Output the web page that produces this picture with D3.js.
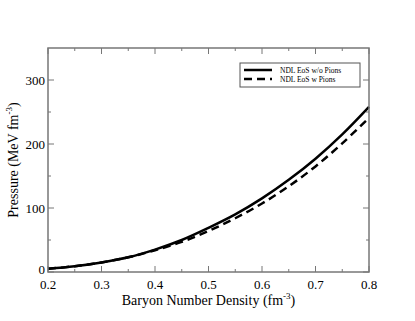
<!DOCTYPE html>
<html lang="en">
<head>
<meta charset="UTF-8">
<title>Pressure vs density</title>
<script src="https://d3js.org/d3.v7.min.js"></script>
<style>
  body { margin: 0; background: #fff; }
  text { font-family: "Liberation Serif", "Times New Roman", serif; fill: #000; }
</style>
</head>
<body>
<script>
    // data
    var density = [0.2, 0.25, 0.3, 0.35, 0.4, 0.45, 0.5, 0.55, 0.6, 0.65, 0.7, 0.75, 0.8];
    var noPions = [5, 9, 15, 23, 35, 50, 69, 90, 115, 144, 177, 215, 258];
    var withPions = [5, 9, 15, 23, 34, 47, 64, 84, 107, 134, 165, 201, 241];
    var xTicks = [0.2, 0.3, 0.4, 0.5, 0.6, 0.7, 0.8];
    var yTicks = [0, 100, 200, 300];
    var seriesNames = ['NDL EoS w/o Pions', 'NDL EoS w Pions'];

    var width = 415, height = 321;
    var margin = {top: 48, right: 46, bottom: 49, left: 48};
    var svg = d3.select('body').append('svg').attr('width', width).attr('height', height);

    var x = d3.scaleLinear().domain([0.2, 0.8]).range([margin.left, width - margin.right]);
    var y = d3.scaleLinear().domain([0, 350]).range([height - margin.bottom, margin.top]);

    var frame = '#777';
    var minorX = d3.range(0.25, 0.8, 0.1);
    var minorY = d3.range(50, 350, 100);

    // tick marks (inside) on all four sides
    var g = svg.append('g').attr('stroke', frame).attr('stroke-width', 1);
    xTicks.concat(minorX).forEach(function (t, i) {
        var len = i < xTicks.length ? 6 : 3;
        g.append('line').attr('x1', x(t)).attr('x2', x(t)).attr('y1', y(0)).attr('y2', y(0) - len);
        g.append('line').attr('x1', x(t)).attr('x2', x(t)).attr('y1', y(350)).attr('y2', y(350) + len);
    });
    yTicks.concat(minorY).forEach(function (t, i) {
        var len = i < yTicks.length ? 6 : 3;
        g.append('line').attr('y1', y(t)).attr('y2', y(t)).attr('x1', x(0.2)).attr('x2', x(0.2) + len);
        g.append('line').attr('y1', y(t)).attr('y2', y(t)).attr('x1', x(0.8)).attr('x2', x(0.8) - len);
    });

    // curves
    var line = d3.line().x(function (d) { return x(d[0]); }).y(function (d) { return y(d[1]); })
        .curve(d3.curveCatmullRom);
    svg.append('path').datum(d3.zip(density, noPions)).attr('d', line)
        .attr('fill', 'none').attr('stroke', '#000').attr('stroke-width', 2.5);
    svg.append('path').datum(d3.zip(density, withPions)).attr('d', line)
        .attr('fill', 'none').attr('stroke', '#000').attr('stroke-width', 2.5)
        .attr('stroke-dasharray', '8,5');

    // frame
    svg.append('rect').attr('x', x(0.2)).attr('y', y(350))
        .attr('width', x(0.8) - x(0.2)).attr('height', y(0) - y(350))
        .attr('fill', 'none').attr('stroke', frame).attr('stroke-width', 1.5);

    // tick labels
    svg.selectAll('.xl').data(xTicks).enter().append('text')
        .attr('x', function (d) { return x(d); }).attr('y', y(0) + 17)
        .attr('text-anchor', 'middle').attr('font-size', 13)
        .text(function (d) { return d.toFixed(1); });
    svg.selectAll('.yl').data(yTicks).enter().append('text')
        .attr('x', x(0.2) - 3).attr('y', function (d) { return y(d) + (d === 0 ? 2 : 4.5); })
        .attr('text-anchor', 'end').attr('font-size', 13)
        .text(function (d) { return d; });

    // axis titles
    var xt = svg.append('text').attr('x', (x(0.2) + x(0.8)) / 2).attr('y', 305)
        .attr('text-anchor', 'middle').attr('font-size', 14);
    xt.append('tspan').text('Baryon Number Density (fm');
    xt.append('tspan').attr('font-size', 9).attr('dy', -6).text('-3');
    xt.append('tspan').attr('dy', 6).text(')');

    var yt = svg.append('text').attr('transform', 'translate(18,' + ((y(0) + y(350)) / 2) + ') rotate(-90)')
        .attr('text-anchor', 'middle').attr('font-size', 14);
    yt.append('tspan').text('Pressure  (MeV fm');
    yt.append('tspan').attr('font-size', 9).attr('dy', -6).text('-3');
    yt.append('tspan').attr('dy', 6).text(')');

    // legend
    var lg = svg.append('g');
    lg.append('rect').attr('x', 240).attr('y', 63).attr('width', 120).attr('height', 24)
        .attr('fill', '#fff').attr('stroke', '#555').attr('stroke-width', 1);
    seriesNames.forEach(function (name, i) {
        var ly = 70 + i * 9;
        lg.append('line').attr('x1', 244).attr('x2', 272).attr('y1', ly).attr('y2', ly)
            .attr('stroke', '#000').attr('stroke-width', 2.5)
            .attr('stroke-dasharray', i === 1 ? '8,5' : null);
        lg.append('text').attr('x', 280).attr('y', ly + 2.5).attr('font-size', 7.5).text(name);
    });
</script>
</body>
</html>
